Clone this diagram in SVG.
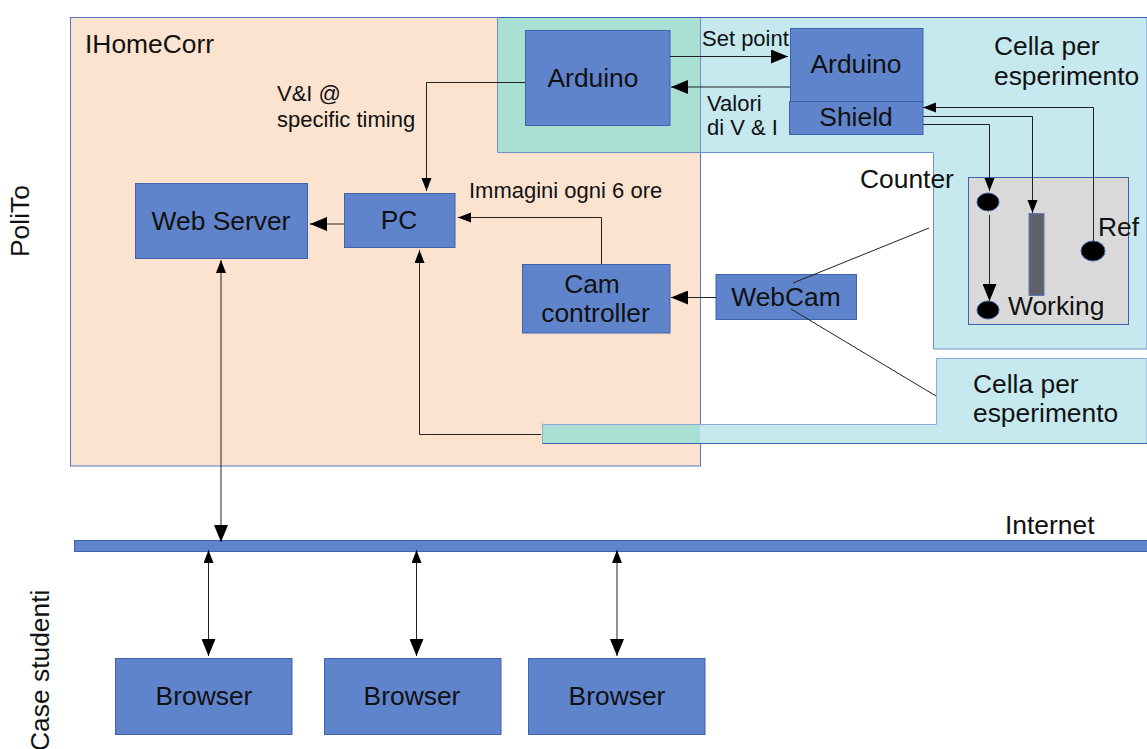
<svg xmlns="http://www.w3.org/2000/svg" width="1147" height="749" viewBox="0 0 1147 749">
<style>
text{font-family:"Liberation Sans",Arial,sans-serif;fill:#111;}
.n{fill:#5f84cb;stroke:#3f62ad;stroke-width:1;}
.l{font-size:26.400px;text-anchor:middle;}
.m{font-size:26.400px;}
.s{font-size:22px;}
.c{fill:none;stroke:#222;stroke-width:1;}
.big{marker-end:url(#ah);}
.small{marker-end:url(#as);}
.sb{marker-start:url(#as);marker-end:url(#ah);}
</style>
<defs>
<marker id="ah" markerUnits="userSpaceOnUse" markerWidth="18" markerHeight="14" refX="17" refY="7" orient="auto-start-reverse"><path d="M0,0L17,7L0,14Z" fill="#000"/></marker>
<marker id="as" markerUnits="userSpaceOnUse" markerWidth="14" markerHeight="12" refX="13" refY="5" orient="auto-start-reverse"><path d="M0,0L13,5L0,10Z" fill="#000"/></marker>
</defs>
<rect width="1147" height="749" fill="#fff"/>
<g id="ihomecorr"><rect x="70.500" y="17.500" width="630" height="448.500" fill="#fce3d0" stroke="#5a78bb"/><text class="m" x="85" y="53">IHomeCorr</text></g>
<g id="cella1"><path d="M497.500,17.500H1147V349H933.500V152.500H497.500Z" fill="#c5e9ef" stroke="#6e8fc7"/><rect x="498" y="18" width="202" height="134" fill="#aae0d3"/><line x1="700.500" y1="18" x2="700.500" y2="152" stroke="#6e8fc7"/><line x1="498" y1="17.500" x2="1147" y2="17.500" stroke="#3f62ad"/><text class="m" x="994" y="55">Cella per</text><text class="m" x="994" y="85">esperimento</text></g>
<g id="cella2"><path d="M542.500,423.500V443.500H1147V358.500H936.500V424.500H542.500Z" fill="#c5e9ef" stroke="#8fa9d6"/><rect x="543" y="425" width="157" height="18" fill="#aae0d3"/><line x1="542.500" y1="443.500" x2="1147" y2="443.500" stroke="#3f62ad"/><text class="m" x="973" y="393">Cella per</text><text class="m" x="973" y="422">esperimento</text></g>
<g id="arduino1"><rect class="n" x="525.500" y="30.500" width="144.500" height="95"/><text class="l" x="593" y="87">Arduino</text></g>
<g id="arduino2"><rect class="n" x="790.500" y="28.500" width="132.500" height="73"/><text class="l" x="856" y="73">Arduino</text></g>
<g id="shield"><rect class="n" x="789.500" y="101.500" width="133.500" height="33"/><text class="l" x="856" y="126">Shield</text></g>
<g id="webserver"><rect class="n" x="135.500" y="183.500" width="172" height="75"/><text class="l" x="221" y="230">Web Server</text></g>
<g id="pc"><rect class="n" x="344.500" y="193.500" width="110.500" height="54"/><text class="l" x="399" y="229">PC</text></g>
<g id="camcontroller"><rect class="n" x="522.500" y="264.500" width="147.500" height="68.500"/><text class="l" x="592" y="293">Cam</text><text class="l" x="595.500" y="322">controller</text></g>
<g id="webcam"><rect class="n" x="716" y="274.500" width="140.500" height="45"/><text class="l" x="786" y="306">WebCam</text></g>
<g id="electrodes"><rect x="968.500" y="177.500" width="160" height="147" fill="#d9d9d9" stroke="#3f62ad"/>
<ellipse cx="988" cy="202" rx="11" ry="9" fill="#000" stroke="#3f62ad"/>
<ellipse cx="988" cy="310" rx="11" ry="9" fill="#000" stroke="#3f62ad"/>
<ellipse cx="1093" cy="251" rx="12" ry="10" fill="#000" stroke="#3f62ad"/>
<rect x="1029" y="213.500" width="15" height="82" fill="#5f6068" stroke="#5a78bb"/>
<text class="m" x="1098" y="236">Ref</text><text class="m" x="1008" y="315">Working</text></g>
<g id="internet"><rect class="n" x="74.500" y="540.500" width="1073" height="11"/><text class="m" x="1005" y="534">Internet</text></g>
<g id="browser1"><rect class="n" x="115.500" y="658.500" width="176.500" height="76"/><text class="l" x="204" y="705">Browser</text></g>
<g id="browser2"><rect class="n" x="324.500" y="658.500" width="176.500" height="76"/><text class="l" x="412" y="705">Browser</text></g>
<g id="browser3"><rect class="n" x="528.500" y="658.500" width="176.500" height="76"/><text class="l" x="617" y="705">Browser</text></g>
<g id="connectors">
<path class="c big" d="M670,56.500H788"/>
<path class="c big" d="M790,87H671"/>
<path class="c small" d="M525,82.500H426.500V191"/>
<path class="c small" d="M1093.500,241V107.500H923"/>
<path class="c small" d="M923,116.500H1032.500V213"/>
<path class="c small" d="M923,124.500H989.500V191"/>
<path class="c big" d="M989.500,215V301"/>
<path class="c small" d="M601.500,264V217.500H458"/>
<path class="c big" d="M716,297.500H671"/>
<path class="c big" d="M344,224H310"/>
<path class="c small" d="M541,434.500H419.500V250"/>
<path class="c sb" d="M221,260V542"/>
<path class="c sb" d="M208.500,550V656"/>
<path class="c sb" d="M416.500,550V656"/>
<path class="c sb" d="M617,550V656"/>
<line class="c" x1="793" y1="283" x2="929" y2="228"/>
<line class="c" x1="791" y1="309" x2="936" y2="396"/>
</g>
<g id="labels">
<text class="s" x="702" y="46">Set point</text>
<text class="s" x="707" y="111">Valori</text>
<text class="s" x="707" y="135">di V &amp; I</text>
<text class="s" x="277" y="101">V&amp;I @</text>
<text class="s" x="277" y="127">specific timing</text>
<text class="s" x="469" y="198">Immagini ogni 6 ore</text>
<text class="m" x="860" y="188">Counter</text>
<text class="m" transform="translate(29,257) rotate(-90)">PoliTo</text>
<text class="m" transform="translate(49,751) rotate(-90)">Case studenti</text>
</g>
</svg>
